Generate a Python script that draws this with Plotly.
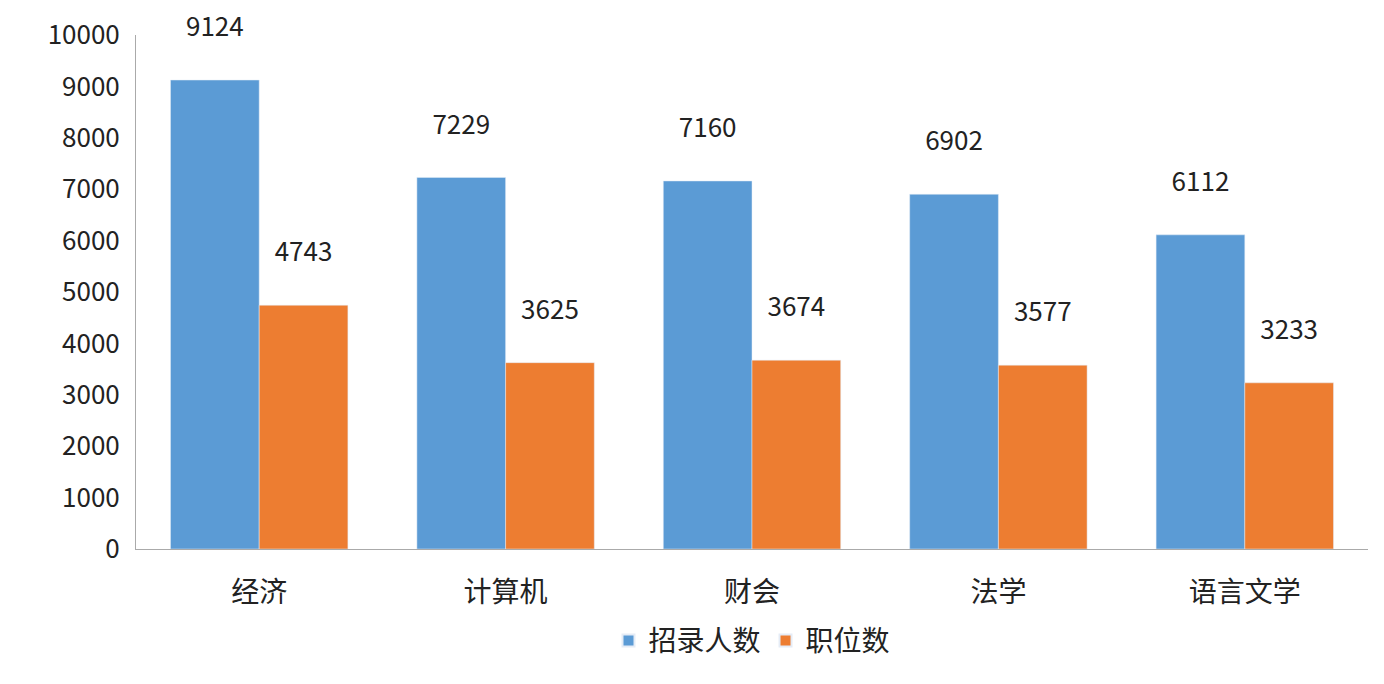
import plotly.graph_objects as go

categories = ["经济", "计算机", "财会", "法学", "语言文学"]
recruits = [9124, 7229, 7160, 6902, 6112]
positions = [4743, 3625, 3674, 3577, 3233]
y_ticks = [0, 1000, 2000, 3000, 4000, 5000, 6000, 7000, 8000, 9000, 10000]

font = "Noto Sans CJK SC"

fig = go.Figure()
fig.add_trace(go.Bar(
    x=categories, y=recruits, name="招录人数",
    marker_color="#5B9BD5",
    text=[f"{v}<br> " for v in recruits], textposition="outside",
    textfont=dict(size=26, color="#222"), cliponaxis=False,
))
fig.add_trace(go.Bar(
    x=categories, y=positions, name="职位数",
    marker_color="#ED7D31",
    text=[f"{v}<br> " for v in positions], textposition="outside",
    textfont=dict(size=26, color="#222"), cliponaxis=False,
))

fig.update_layout(
    width=1384, height=684,
    margin=dict(l=128, r=24, t=27, b=143, autoexpand=False),
    paper_bgcolor="white", plot_bgcolor="white",
    font=dict(family=font, color="#222"),
    barmode="group", bargap=0.28, bargroupgap=0,
    legend=dict(orientation="h", x=0.5, xanchor="center", y=-0.13, yanchor="top",
                font=dict(size=28), itemsizing="constant"),
)
fig.update_xaxes(showline=True, linecolor="#aaa", linewidth=1, automargin=False,
                 tickfont=dict(size=28), ticks="", ticklabelstandoff=18)
fig.update_yaxes(range=[0, 10000], tickvals=y_ticks, ticktext=[str(t) for t in y_ticks],
                 showgrid=False, automargin=False,
                 showline=True, linecolor="#aaa", linewidth=1,
                 tickfont=dict(size=26), ticks="", zeroline=False, ticklabelstandoff=10)

fig.write_html("out.html")
